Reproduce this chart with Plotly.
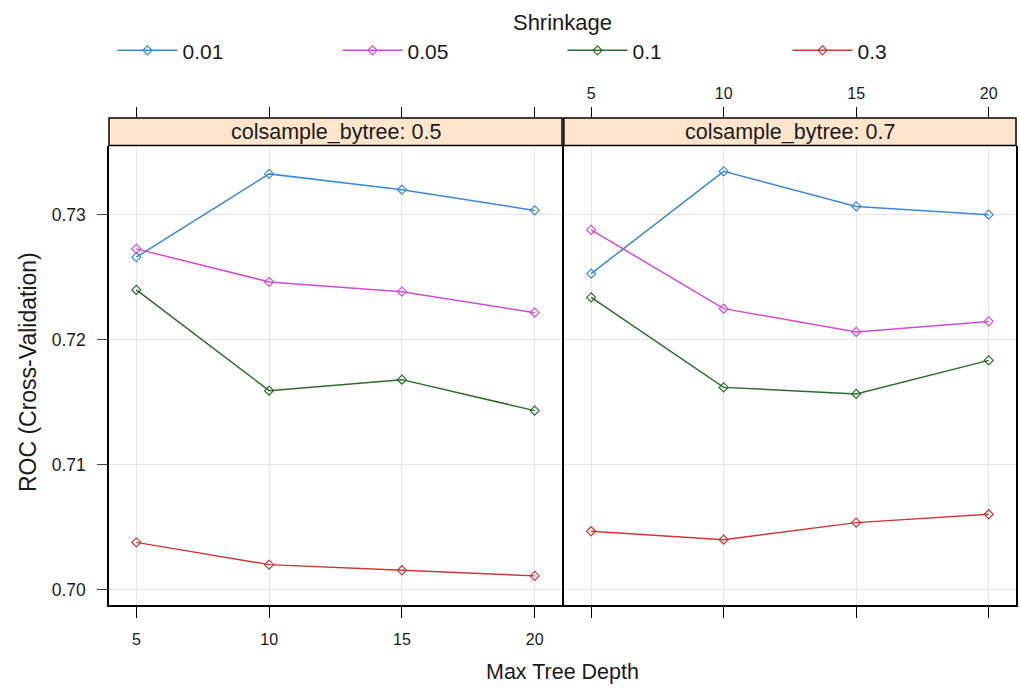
import plotly.graph_objects as go

depth = [5, 10, 15, 20]
shrinkage = ["0.01", "0.05", "0.1", "0.3"]
colors = ["#3a89d2", "#cf4cd3", "#2c6b2c", "#c63a3a"]
panels = ["colsample_bytree: 0.5", "colsample_bytree: 0.7"]

roc_05 = {
    "0.01": [0.72660, 0.73326, 0.73200, 0.73034],
    "0.05": [0.72726, 0.72462, 0.72384, 0.72216],
    "0.1":  [0.72398, 0.71592, 0.71680, 0.71432],
    "0.3":  [0.70378, 0.70200, 0.70155, 0.70110],
}
roc_07 = {
    "0.01": [0.72528, 0.73346, 0.73066, 0.73000],
    "0.05": [0.72878, 0.72248, 0.72062, 0.72146],
    "0.1":  [0.72338, 0.71618, 0.71566, 0.71834],
    "0.3":  [0.70467, 0.70400, 0.70536, 0.70603],
}
y_ticks = [0.70, 0.71, 0.72, 0.73]
x_ticks = [5, 10, 15, 20]

FONT = "Liberation Sans, Arial, sans-serif"
TXT = "#1a1a1a"
fig = go.Figure()

for i, (data, xa, ya) in enumerate([(roc_05, "x", "y"), (roc_07, "x2", "y2")]):
    for s, c in zip(shrinkage, colors):
        fig.add_trace(go.Scatter(
            x=depth, y=data[s], mode="lines+markers", name=s,
            xaxis=xa, yaxis=ya, legendgroup=s, showlegend=(i == 0),
            line=dict(color=c, width=1.5),
            marker=dict(symbol="diamond-open", size=7, color=c, line=dict(width=1.2, color=c)),
        ))

# carriers for the top tick axes
fig.add_trace(go.Scatter(x=depth, y=[None] * 4, xaxis="x3", yaxis="y", mode="none",
                         showlegend=False, hoverinfo="skip"))
fig.add_trace(go.Scatter(x=depth, y=[None] * 4, xaxis="x4", yaxis="y2", mode="none",
                         showlegend=False, hoverinfo="skip"))

ydom = [0, 0.9435]
xr = [3.97, 21.03]
yr = [0.69877, 0.73553]
common_x = dict(range=xr, tickvals=x_ticks, gridcolor="#e6e6e6", gridwidth=1,
                zeroline=False, ticks="outside", ticklen=11, tickcolor="black", tickwidth=1,
                tickfont=dict(family=FONT, size=16, color=TXT))
common_y = dict(range=yr, tickvals=y_ticks, showgrid=True, gridcolor="#e6e6e6", gridwidth=1,
                zeroline=False, domain=ydom, showline=True, linecolor="black", linewidth=1.5,
                mirror=True, tickfont=dict(family=FONT, size=17.5, color=TXT))

fig.update_layout(
    width=1020, height=690,
    margin=dict(l=109, r=2, t=117, b=85),
    plot_bgcolor="white", paper_bgcolor="white",
    font=dict(family=FONT, color=TXT),
    xaxis=dict(domain=[0, 0.4995], anchor="y", showline=True, linecolor="black", linewidth=1.5,
               showgrid=True, ticklabelstandoff=8, **common_x),
    xaxis2=dict(domain=[0.5015, 1], anchor="y2", showline=True, linecolor="black", linewidth=1.5,
                showgrid=True, showticklabels=False, **common_x),
    xaxis3=dict(overlaying="x", anchor="free", position=1, side="top", showticklabels=False,
                showgrid=False, **common_x),
    xaxis4=dict(overlaying="x2", anchor="free", position=1, side="top", showticklabels=True,
                ticklabelstandoff=2, showgrid=False, **common_x),
    yaxis=dict(anchor="x", ticks="outside", ticklen=10, tickformat=".2f", ticklabelstandoff=8,
               **common_y),
    yaxis2=dict(anchor="x2", ticks="", showticklabels=False, **common_y),
    legend=dict(orientation="h", x=0.5, xanchor="center", y=1.239, yanchor="top",
                title=dict(text="Shrinkage", side="top center", font=dict(family=FONT, size=22, color=TXT)),
                font=dict(family=FONT, size=21, color=TXT), entrywidth=150, entrywidthmode="pixels",
                itemwidth=60, bgcolor="rgba(0,0,0,0)"),
    showlegend=True,
)

# strips
for i, (xref, label) in enumerate(zip(["x domain", "x2 domain"], panels)):
    fig.add_shape(type="rect", xref=xref, yref="paper", x0=0, x1=1, y0=ydom[1], y1=1,
                  fillcolor="#ffe5cc", line=dict(color="black", width=1.5), layer="above")
    fig.add_annotation(xref=xref, yref="paper", x=0.5, y=(ydom[1] + 1) / 2, text=label,
                       showarrow=False, yanchor="middle", font=dict(family=FONT, size=21.5, color=TXT))

fig.add_annotation(xref="paper", yref="paper", x=0.5, y=-0.137, text="Max Tree Depth",
                   showarrow=False, yanchor="middle", font=dict(family=FONT, size=21.5, color=TXT))
fig.add_annotation(xref="paper", yref="paper", x=-0.09, y=0.479, text="ROC (Cross-Validation)",
                   textangle=-90, showarrow=False, xanchor="center", yanchor="middle",
                   font=dict(family=FONT, size=23, color=TXT))

fig.write_html("out.html")
